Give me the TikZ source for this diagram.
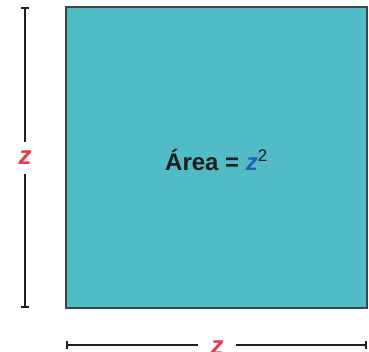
\documentclass[tikz,border=0pt]{standalone}
\usepackage{fontspec}
\setmainfont{Liberation Sans}
\usepackage{tikz}
\usetikzlibrary{arrows.meta,positioning}
\definecolor{sqteal}{HTML}{52BCC6}
\definecolor{sqedge}{HTML}{3A4849}
\definecolor{dimred}{HTML}{E8384F}
\definecolor{zblue}{HTML}{1F5FB4}
\definecolor{dimink}{HTML}{1E1E1E}

\begin{document}
\begin{tikzpicture}[x=1pt,y=1pt,
    dimline/.style={draw=dimink,line width=2.2pt},
    dimlabel/.style={inner sep=0pt,font=\fontsize{26}{28}\selectfont\bfseries\itshape\color{dimred}}]
  \useasboundingbox (0,0) rectangle (369,351);
  % the square
  \draw[draw=sqedge,fill=sqteal,line width=1.6pt] (66,43) rectangle (367,344);
  \node[font=\fontsize{24}{26}\selectfont\bfseries\color{dimink}] (area) at (216.5,191) {Área = \textcolor{zblue}{\itshape z}\textsuperscript{\mdseries 2}};
  % side dimension
  \coordinate (vtop) at (25,344);
  \coordinate (vbot) at (25,43);
  \node[dimlabel,minimum height=32pt] (zv) at (25,193) {z};
  \draw[dimline,-{Bar[width=8pt]}] (zv.north) -- (vtop);
  \draw[dimline,-{Bar[width=8pt]}] (zv.south) -- (vbot);
  % bottom dimension
  \coordinate (hleft) at (66,6);
  \coordinate (hright) at (367,6);
  \node[dimlabel,minimum width=38pt] (zh) at (217,3) {z};
  \draw[dimline,-{Bar[width=8pt]}] (zh.west |- hleft) -- (hleft);
  \draw[dimline,-{Bar[width=8pt]}] (zh.east |- hright) -- (hright);
\end{tikzpicture}
\end{document}
